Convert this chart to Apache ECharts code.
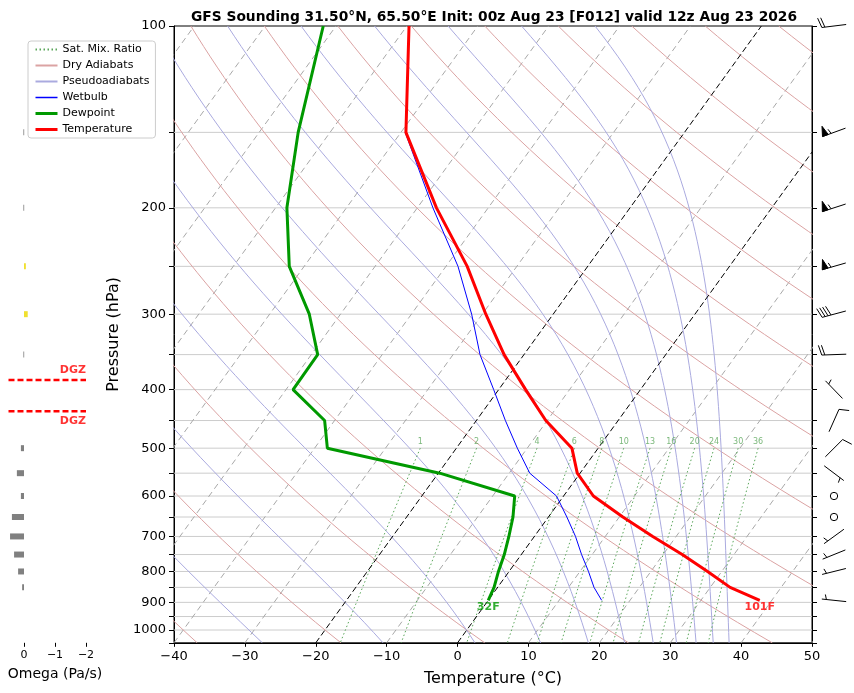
<!DOCTYPE html>
<html><head><meta charset="utf-8">
<script src="https://cdn.jsdelivr.net/npm/echarts@6.0.0/dist/echarts.min.js"></script>
<style>html,body{margin:0;padding:0;background:#fff;}#c{width:854px;height:693px;}</style>
</head><body><div id="c"></div>
<script>
// ---------------- data ----------------
const titleText = 'GFS Sounding 31.50°N, 65.50°E Init: 00z Aug 23 [F012] valid 12z Aug 23 2026';
const pressure    = [100, 150, 200, 250, 300, 350, 400, 450, 500, 550, 600, 650, 700, 750, 800, 850, 893];
const temperature = [-69.7, -59.3, -47.3, -37.0, -29.5, -22.8, -16.2, -10.2, -3.7, -0.4, 4.2, 10.5, 16.7, 22.7, 28.0, 32.8, 38.3];
const dewpoint    = [-81.8, -74.5, -68.4, -62.1, -54.4, -49.1, -49.0, -41.4, -38.2, -19.8, -6.9, -5.0, -3.6, -2.4, -1.5, -0.5, 0.0];
const wetbulb     = [null, -59.4, -47.8, -38.3, -31.5, -26.2, -20.7, -15.9, -11.4, -7.1, -1.0, 2.6, 5.8, 8.5, 11.2, 13.6, 16.0];
const windPressure = [100, 150, 200, 250, 300, 350, 400, 450, 500, 550, 600, 650, 700, 750, 800, 893];
const windSpeed    = [20, 55, 55, 55, 40, 20, 5, 10, 10, 5, 0, 0, 5, 5, 5, 5];
const windDir      = [263, 250, 252, 254, 255, 268, 316, 24, 45, 127, 0, 0, 234, 248, 256, 276];
const omegaPressure = [150, 200, 250, 300, 350, 500, 550, 600, 650, 700, 750, 800, 850];
const omegaValues   = [0.02, 0.02, -0.06, -0.12, 0.02, 0.10, 0.23, 0.10, 0.39, 0.45, 0.32, 0.19, 0.06];
const mixingRatios = [1, 2, 4, 6, 8, 10, 13, 16, 20, 24, 30, 36];
const dryThetas = [-40, -20, 0, 20, 40, 60, 80, 100, 120, 140, 160, 180, 200, 220];
const pseudoTopThetas = [-30, -10, 10, 30, 50, 70, 90, 110, 130, 150, 170];
const isothermValues = [-100, -90, -80, -70, -60, -50, -40, -30, -20, -10, 0, 10, 20, 30, 40, 50];
const highlightIsotherms = [-20, 0];
const pressureTicks = [100,150,200,250,300,350,400,450,500,550,600,650,700,750,800,850,900,950,1000,1050];
const pressureLabels = [100,200,300,400,500,600,700,800,900,1000];
const omegaTicks = [0, -1, -2];
const dgzLimits = [-12, -18];

// ---------------- helpers ----------------
const SKEW = 61.55, PBOT = 1050, PTOP = 100;
const skewX = (t, p) => t + SKEW * Math.log10(PBOT / p);
const minus = v => (v < 0 ? '\u2212' + Math.abs(v) : String(v));
const FONT = 'DejaVu Sans';
function logspace(a, b, n) { const r = []; for (let i = 0; i <= n; i++) r.push(a * Math.pow(b / a, i / n)); return r; }
const Rd = 287.04, Cp = 1005.7, Lv = 2.501e6, EPS = 0.622, KAPPA = Rd / Cp;
function es(tk) { const tc = tk - 273.15; return 6.112 * Math.exp(17.67 * tc / (tc + 243.5)); }
function dTdp(p, t) { const e = es(t); const rs = EPS * e / (p - e);
  return (Rd * t + Lv * rs) / (Cp + (Lv * Lv * rs * EPS) / (Rd * t * t)) / p; }
const BREAK = ['-', '-'];

const gridData = [];
pressureTicks.forEach(p => { if (p > PTOP && p < PBOT) { gridData.push([-40, p], [50, p], BREAK); } });
const isoData = [];
isothermValues.forEach(t => { if (highlightIsotherms.indexOf(t) < 0) isoData.push([skewX(t, PBOT), PBOT], [skewX(t, PTOP), PTOP], BREAK); });
const isoHiData = [];
highlightIsotherms.forEach(t => isoHiData.push([skewX(t, PBOT), PBOT], [skewX(t, PTOP), PTOP], BREAK));
const pLev = logspace(PTOP, PBOT, 60);
const dryData = [];
dryThetas.forEach(th => { pLev.forEach(p => { const t = (th + 273.15) * Math.pow(p / 1000, KAPPA) - 273.15; dryData.push([skewX(t, p), p]); }); dryData.push(BREAK); });
const moistData = [];
const pFine = logspace(PTOP, PBOT, 240);
pseudoTopThetas.forEach(th => {
  let t = (th + 273.15) * Math.pow(PTOP / 1000, KAPPA);
  moistData.push([skewX(t - 273.15, PTOP), PTOP]);
  for (let i = 1; i < pFine.length; i++) {
    const p0 = pFine[i - 1], h = pFine[i] - p0;
    const k1 = dTdp(p0, t), k2 = dTdp(p0 + h / 2, t + h * k1 / 2), k3 = dTdp(p0 + h / 2, t + h * k2 / 2), k4 = dTdp(p0 + h, t + h * k3);
    t += h * (k1 + 2 * k2 + 2 * k3 + k4) / 6;
    if (i % 4 === 0 || i === pFine.length - 1) moistData.push([skewX(t - 273.15, pFine[i]), pFine[i]]);
  }
  moistData.push(BREAK);
});
function tdFromW(p, w) { const e = p * (w / 1000) / (EPS + w / 1000); const l = Math.log(e / 6.112); return 243.5 * l / (17.67 - l); }
const mixData = [], mixLabels = [];
const pMix = logspace(500, PBOT, 20);
mixingRatios.forEach(w => { pMix.forEach(p => mixData.push([skewX(tdFromW(p, w), p), p])); mixData.push(BREAK);
  mixLabels.push({ value: [skewX(tdFromW(500, w), 500), 500], label: { formatter: String(w) } }); });

const toXY = arr => arr.map((t, i) => (t === null ? BREAK : [skewX(t, pressure[i]), pressure[i]]));
const last = pressure.length - 1;
const surfaceLabels = [
  { value: [skewX(dewpoint[last], pressure[last]), pressure[last]], label: { formatter: Math.round(dewpoint[last] * 9 / 5 + 32) + 'F', color: '#009900' } },
  { value: [skewX(temperature[last], pressure[last]), pressure[last]], label: { formatter: Math.round(temperature[last] * 9 / 5 + 32) + 'F', color: '#ff0000' } }
];
function pAtT(target) {
  for (let i = 0; i < temperature.length - 1; i++) {
    const a = temperature[i], b = temperature[i + 1];
    if ((a - target) * (b - target) <= 0 && a !== b) {
      const f = (target - a) / (b - a);
      return Math.pow(10, Math.log10(pressure[i]) + f * (Math.log10(pressure[i + 1]) - Math.log10(pressure[i])));
    }
  }
  return null;
}
const dgzP = dgzLimits.map(pAtT);

// ---------------- chart ----------------
const chart = echarts.init(document.getElementById('c'), null, { renderer: 'canvas' });
const yLog = { type: 'log', logBase: 10, min: PTOP, max: PBOT, inverse: true };
const TOP = 26, BOTTOM = 50.2;

function barbItem(params, api) {
  const p = api.value(1), spd = api.value(2), dir = api.value(3);
  const c = api.coord([0, p]);
  const L = 24.5, h = 0.4 * L, w = 0.25 * L, sp = 0.125 * L;
  const r = dir * Math.PI / 180;
  const dx = Math.sin(r), dy = -Math.cos(r), nx = Math.cos(r), ny = Math.sin(r);
  const tip = [c[0] - dx * L / 2, c[1] - dy * L / 2];
  const P = (s, hh) => [tip[0] + dx * s + nx * hh, tip[1] + dy * s + ny * hh];
  const st = { stroke: '#000', lineWidth: 1, fill: null };
  const ch = [];
  let mag = Math.round(spd / 5) * 5;
  if (mag < 5) {
    ch.push({ type: 'circle', shape: { cx: c[0], cy: c[1], r: 0.15 * L }, style: { stroke: '#000', lineWidth: 1, fill: null } });
    return { type: 'group', children: ch };
  }
  const nf = Math.floor(mag / 50); mag -= nf * 50;
  const nb = Math.floor(mag / 10); mag -= nb * 10;
  const half = mag >= 5;
  ch.push({ type: 'line', shape: { x1: P(0, 0)[0], y1: P(0, 0)[1], x2: P(L, 0)[0], y2: P(L, 0)[1] }, style: st });
  let off = L;
  for (let i = 0; i < nf; i++) {
    if (off !== L) off += sp / 2;
    ch.push({ type: 'polygon', shape: { points: [P(off, 0), P(off - w / 2, h), P(off - w, 0)] }, style: { fill: '#000', stroke: '#000', lineWidth: 1 } });
    off -= w + sp;
  }
  for (let i = 0; i < nb; i++) {
    const a = P(off, 0), b = P(off + w / 2, h);
    ch.push({ type: 'line', shape: { x1: a[0], y1: a[1], x2: b[0], y2: b[1] }, style: st });
    off -= sp;
  }
  if (half) {
    if (off === L) off -= 1.5 * sp;
    const a = P(off, 0), b = P(off + w / 4, h / 2);
    ch.push({ type: 'line', shape: { x1: a[0], y1: a[1], x2: b[0], y2: b[1] }, style: st });
  }
  return { type: 'group', children: ch };
}
function omegaItem(params, api) {
  const om = api.value(0), p = api.value(1);
  const a = api.coord([0, p]), b = api.coord([om, p]);
  const x = Math.min(a[0], b[0]), wd = Math.max(Math.abs(b[0] - a[0]), 0.8);
  return { type: 'rect', shape: { x: x, y: a[1] - 3, width: wd, height: 6 }, style: { fill: om < 0 ? '#f0e030' : '#808080' } };
}

const lineBase = { type: 'line', symbol: 'none', silent: true, connectNulls: false, animation: false, xAxisIndex: 0, yAxisIndex: 0, clip: true };

const option = {
  animation: false,
  textStyle: { fontFamily: FONT },
  title: { text: titleText, left: 489, top: 5, textAlign: 'center', textStyle: { fontSize: 13.8, fontWeight: 'bold', fontFamily: FONT, color: '#000' } },
  legend: {
    data: [
      { name: 'Sat. Mix. Ratio' },
      { name: 'Dry Adiabats' },
      { name: 'Pseudoadiabats' },
      { name: 'Wetbulb', lineStyle: { width: 1.5 } },
      { name: 'Dewpoint', lineStyle: { width: 3 } },
      { name: 'Temperature', lineStyle: { width: 3 } }
    ],
    orient: 'vertical', left: 28, top: 41, itemWidth: 22, itemHeight: 12, itemGap: 3,
    padding: [2, 6, 2, 6], backgroundColor: 'rgba(255,255,255,0.85)', borderColor: '#cccccc', borderWidth: 1, borderRadius: 3,
    itemStyle: { opacity: 0, borderWidth: 0 },
    textStyle: { fontSize: 11, color: '#000', fontFamily: FONT, lineHeight: 13 }, selectedMode: false, z: 10
  },
  grid: [
    { left: 174, right: 42, top: TOP, bottom: BOTTOM, show: true, borderColor: '#000', borderWidth: 1, backgroundColor: 'transparent' },
    { left: 8.5, width: 93, top: TOP, bottom: BOTTOM, show: false },
    { left: 821, width: 26, top: TOP, bottom: BOTTOM, show: false }
  ],
  xAxis: [
    { gridIndex: 0, type: 'value', min: -40, max: 50, interval: 10,
      axisLine: { onZero: false, lineStyle: { color: '#000' } }, axisTick: { length: 4, lineStyle: { color: '#000' } },
      axisLabel: { formatter: minus, fontSize: 13, color: '#000', margin: 7, fontFamily: FONT }, splitLine: { show: false },
      name: 'Temperature (°C)', nameLocation: 'middle', nameGap: 28, nameTextStyle: { fontSize: 16, color: '#000', fontFamily: FONT } },
    { gridIndex: 1, type: 'value', min: -2.5, max: 0.5, inverse: true,
      axisLine: { show: false, onZero: false }, axisTick: { length: 4, customValues: omegaTicks, lineStyle: { color: '#000' } },
      axisLabel: { customValues: omegaTicks, formatter: minus, fontSize: 11, color: '#000', margin: 7, fontFamily: FONT }, splitLine: { show: false },
      name: 'Omega (Pa/s)', nameLocation: 'middle', nameGap: 25, nameTextStyle: { fontSize: 14, color: '#000', fontFamily: FONT } },
    { gridIndex: 2, type: 'value', min: -1, max: 1, show: false }
  ],
  yAxis: [
    Object.assign({ gridIndex: 0, position: 'left',
      axisLine: { show: true, onZero: false, lineStyle: { color: '#000' } }, axisTick: { show: true, length: 5, customValues: pressureTicks, lineStyle: { color: '#000' } },
      axisLabel: { customValues: pressureLabels, formatter: v => String(Math.round(v)), fontSize: 13, color: '#000', margin: 8, fontFamily: FONT }, splitLine: { show: false },
      name: 'Pressure (hPa)', nameLocation: 'middle', nameGap: 42, nameRotate: 90, nameTextStyle: { fontSize: 16, color: '#000', fontFamily: FONT } }, yLog),
    Object.assign({ gridIndex: 0, position: 'right',
      axisLine: { show: true, onZero: false, lineStyle: { color: '#000' } }, axisTick: { show: true, length: 5, customValues: pressureTicks, lineStyle: { color: '#000' } },
      axisLabel: { show: false }, splitLine: { show: false } }, yLog),
    Object.assign({ gridIndex: 1, show: false, axisLine: { onZero: false }, splitLine: { show: false } }, yLog),
    Object.assign({ gridIndex: 2, show: false, axisLine: { onZero: false }, splitLine: { show: false } }, yLog)
  ],
  series: [
    Object.assign({}, lineBase, { name: 'grid', data: gridData, lineStyle: { color: '#cccccc', width: 1 }, z: 1 }),
    Object.assign({}, lineBase, { name: 'isotherms', data: isoData, lineStyle: { color: '#a8a8a8', width: 1, type: [6, 4] }, z: 2 }),
    Object.assign({}, lineBase, { name: 'Dry Adiabats', data: dryData, lineStyle: { color: '#dba3a3', width: 1 }, z: 2 }),
    Object.assign({}, lineBase, { name: 'Pseudoadiabats', data: moistData, lineStyle: { color: '#aaaadf', width: 1 }, z: 2 }),
    Object.assign({}, lineBase, { name: 'Sat. Mix. Ratio', data: mixData, lineStyle: { color: '#5aa65a', width: 1, type: [1.5, 2.5] }, z: 2 }),
    Object.assign({}, lineBase, { name: 'isoHi', data: isoHiData, lineStyle: { color: '#000', width: 1, type: [6, 3] }, z: 3 }),
    Object.assign({}, lineBase, { name: 'Wetbulb', data: toXY(wetbulb), lineStyle: { color: '#0000ff', width: 1 }, z: 4 }),
    Object.assign({}, lineBase, { name: 'Dewpoint', data: toXY(dewpoint), lineStyle: { color: '#009900', width: 3 }, z: 5 }),
    Object.assign({}, lineBase, { name: 'Temperature', data: toXY(temperature), lineStyle: { color: '#ff0000', width: 3 }, z: 5 }),
    { type: 'scatter', name: 'mixlabels', xAxisIndex: 0, yAxisIndex: 0, symbolSize: 0, silent: true, data: mixLabels, z: 3,
      label: { show: true, position: 'top', distance: 2, fontSize: 8, color: '#5aa65a', fontFamily: FONT } },
    { type: 'scatter', name: 'sfc', xAxisIndex: 0, yAxisIndex: 0, symbolSize: 0, silent: true, data: surfaceLabels, z: 6,
      label: { show: true, position: 'bottom', distance: 1, fontSize: 11, fontWeight: 'bold', fontFamily: FONT } },
    { type: 'custom', name: 'omega', xAxisIndex: 1, yAxisIndex: 2, renderItem: omegaItem, clip: false, silent: true,
      data: omegaPressure.map((p, i) => [omegaValues[i], p]) },
    { type: 'line', name: 'dgz', xAxisIndex: 1, yAxisIndex: 2, symbol: 'none', silent: true, connectNulls: false,
      data: dgzP.reduce((a, p) => a.concat([[0.5, p], [-2, p], BREAK]), []), lineStyle: { color: '#ff0000', width: 2.5, type: [6, 3] } },
    { type: 'scatter', name: 'dgzlabels', xAxisIndex: 1, yAxisIndex: 2, symbolSize: 0, silent: true,
      data: dgzP.map((p, i) => ({ value: [-2, p], label: { position: [0, i === 0 ? 4 : -4], verticalAlign: i === 0 ? 'top' : 'bottom' } })),
      label: { show: true, formatter: 'DGZ', align: 'right', color: '#ff0000', fontWeight: 'bold', fontSize: 11, fontFamily: FONT } },
    { type: 'custom', name: 'barbs', xAxisIndex: 2, yAxisIndex: 3, renderItem: barbItem, clip: false, silent: true,
      data: windPressure.map((p, i) => [0, p, windSpeed[i], windDir[i]]) }
  ]
};
chart.setOption(option);
</script>
</body></html>
